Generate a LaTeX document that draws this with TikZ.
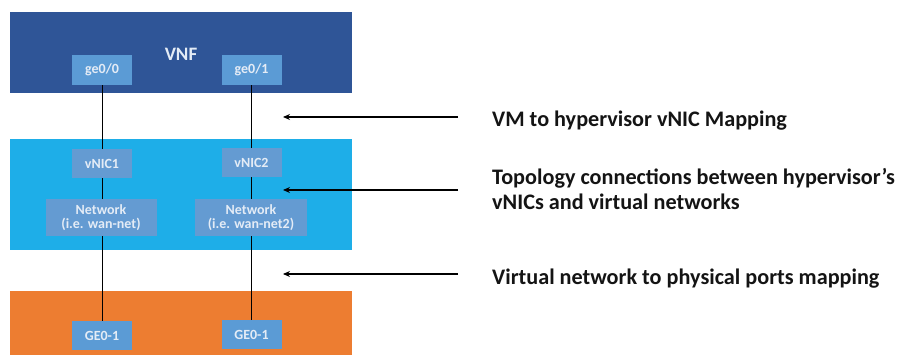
\documentclass[tikz,border=0pt]{standalone}
\usepackage{fontspec}
\setmainfont{Carlito}
\usetikzlibrary{arrows.meta}
\definecolor{vnfblue}{RGB}{47,85,151}
\definecolor{hyperblue}{RGB}{30,174,232}
\definecolor{physorange}{RGB}{237,125,49}
\definecolor{portblue}{RGB}{91,155,213}
\definecolor{netblue}{RGB}{100,155,210}
\definecolor{porttext}{RGB}{228,236,246}
\definecolor{labeltext}{RGB}{20,20,20}
\tikzset{
  port/.style={fill=portblue, draw=none, inner sep=0pt, minimum width=60pt, minimum height=30pt,
    text=porttext, font=\fontsize{14}{14.5}\selectfont\bfseries, align=center},
  netbox/.style={port, fill=netblue, minimum width=111pt, minimum height=37pt},
  link/.style={draw=black, line width=1pt},
  pointer/.style={draw=black, line width=1.1pt, -{Stealth[length=7pt,width=6pt]}},
  caption/.style={anchor=base west, inner sep=0pt, text=labeltext,
    font=\fontsize{22.2}{25}\selectfont\bfseries, align=left}
}
\begin{document}
\begin{tikzpicture}[x=1pt,y=1pt]
\useasboundingbox (0,0) rectangle (899,-355);
\fill[white] (0,0) rectangle (899,-355);
% layers
\fill[vnfblue] (10,-12) rectangle (352,-93);
\fill[hyperblue] (10,-139) rectangle (352,-250);
\fill[physorange] (10,-291) rectangle (352,-355);
\node[text=porttext, font=\fontsize{19}{20}\selectfont\bfseries] (vnf) at (181,-54) {VNF};
% ports
\node[port] (ge00) at (102,-70) {ge0/0};
\node[port] (ge01) at (251.5,-70) {ge0/1};
\node[port, fill=netblue, minimum height=29pt] (vnic1) at (102,-163.5) {vNIC1};
\node[port, fill=netblue, minimum height=29pt] (vnic2) at (251.5,-162.5) {vNIC2};
\node[netbox] (net1) at (101,-217.5) {Network\\(i.e. wan-net)};
\node[netbox, minimum width=112pt] (net2) at (251,-217.5) {Network\\(i.e. wan-net2)};
\node[port, minimum height=29pt] (phy1) at (102,-335.5) {GE0-1};
\node[port, minimum height=29pt] (phy2) at (251.5,-334.5) {GE0-1};
% links
\draw[link] (ge00.south) -- (vnic1.north);
\draw[link] (vnic1.south) -- (vnic1.south |- net1.north);
\draw[link] (vnic1.south |- net1.south) -- (phy1.north);
\draw[link] (ge01.south) -- (vnic2.north);
\draw[link] (vnic2.south) -- (vnic2.south |- net2.north);
\draw[link] (vnic2.south |- net2.south) -- (phy2.north);
% pointers
\coordinate (p1s) at (458,-117);
\coordinate (p1e) at (283,-117);
\coordinate (p2s) at (458,-190);
\coordinate (p2e) at (283,-190);
\coordinate (p3s) at (458,-274);
\coordinate (p3e) at (283,-274);
\draw[pointer] (p1s) -- (p1e);
\draw[pointer] (p2s) -- (p2e);
\draw[pointer] (p3s) -- (p3e);
% captions
\node[caption] (c1) at (492,-127) {VM to hypervisor vNIC Mapping};
\node[caption] (c2) at (492,-210) {Topology connections between hypervisor’s\\vNICs and virtual networks};
\node[caption] (c3) at (492,-284) {Virtual network to physical ports mapping};
\end{tikzpicture}
\end{document}
